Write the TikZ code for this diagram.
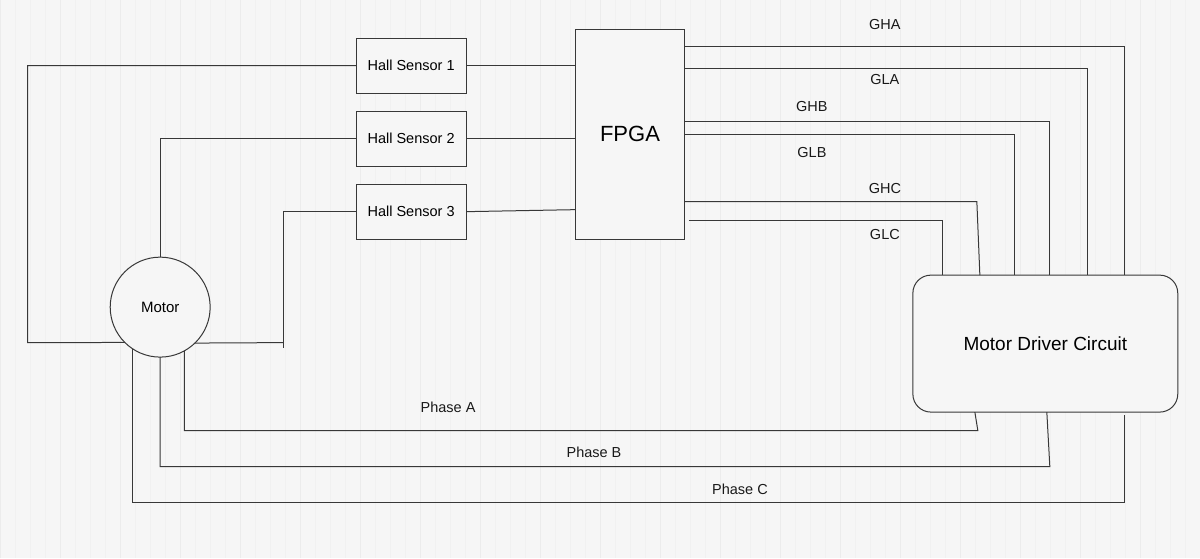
\documentclass[tikz,border=0pt]{standalone}
\usepackage{fontspec}
\setmainfont{Liberation Sans}
\begin{document}
\begin{tikzpicture}[x=1pt,y=-1pt,
  wire/.style={draw=black!78, line width=1pt},
  box/.style={draw=black!78, line width=1pt, fill=gray!7, inner sep=0pt, outer sep=0pt, text=black, font=\fontsize{14.5}{17}\selectfont},
  lbl/.style={font=\fontsize{14.5}{17}\selectfont, text=black!90, inner sep=0pt}]
\fill[gray!7] (0,0) rectangle (1200,558);
\draw[gray!11, line width=0.4pt] (0,0) grid[step=15] (1200,558);
\draw[gray!15, line width=0.5pt] (0,0) grid[step=60] (1200,558);
\useasboundingbox (0,0) rectangle (1200,558);

% nodes
\node[box, minimum width=110, minimum height=55] (hs1) at (411,65.5) {Hall Sensor 1};
\node[box, minimum width=110, minimum height=55] (hs2) at (411,138.5) {Hall Sensor 2};
\node[box, minimum width=110, minimum height=55] (hs3) at (411,211.5) {Hall Sensor 3};
\node[box, minimum width=110, minimum height=210, font=\fontsize{22}{26}\selectfont] (fpga) at (630,134) {FPGA};
\node[box, circle, minimum size=100, font=\fontsize{15}{18}\selectfont] (motor) at (160,307) {Motor};
\node[box, rounded corners=18, minimum width=265, minimum height=137, font=\fontsize{19}{22}\selectfont] (drv) at (1045.5,343.5) {Motor Driver Circuit};

% hall sensors to FPGA
\draw[wire] (hs1.east) -- (fpga.west |- hs1.east);
\draw[wire] (hs2.east) -- (fpga.west |- hs2.east);
\draw[wire] (hs3.east) -- (fpga.west |- 0,209.5);

% hall sensors to motor
\draw[wire] (hs1.west) -| (27.5,342.5) -- (motor.225.8);
\draw[wire] (hs2.west) -| (motor.north);
\coordinate (j3) at (283.5,342.5);
\draw[wire] (hs3.west) -| (283.5,348);
\draw[wire] (motor.314.2) -- (j3);

% FPGA to driver
\draw[wire] (fpga.east |- 0,46.5)  -| (drv.north -| 1124.5,0);
\draw[wire] (fpga.east |- 0,68.5)  -| (drv.north -| 1087.5,0);
\draw[wire] (fpga.east |- 0,121.5) -| (drv.north -| 1049.5,0);
\draw[wire] (fpga.east |- 0,134.5) -| (drv.north -| 1014.5,0);
\draw[wire] (fpga.east |- 0,201.5) -- (977,201.5) -- (drv.north -| 980,0);
\draw[wire] ([xshift=4pt]fpga.east |- 0,220.5) -| (drv.north -| 942.5,0);

\node[lbl] (gha) at (885,24) {GHA};
\node[lbl] (gla) at (885,79) {GLA};
\node[lbl] (ghb) at (812,106) {GHB};
\node[lbl] (glb) at (812,152) {GLB};
\node[lbl] (ghc) at (885,188) {GHC};
\node[lbl] (glc) at (885,234) {GLC};

% phases
\draw[wire] (motor.-61.3) |- (978,430.5) -- (drv.south -| 975,0);
\draw[wire] (motor.south) |- (1050,466.5) -- (drv.south -| 1047,0);
\draw[wire] (motor.237.3) |- (1124.5,502.5) -- ([yshift=-3pt]drv.south -| 1124.5,0);

\node[lbl] (pa) at (448,407) {Phase A};
\node[lbl] (pb) at (594,452) {Phase B};
\node[lbl] (pc) at (740,489) {Phase C};
\end{tikzpicture}
\end{document}
